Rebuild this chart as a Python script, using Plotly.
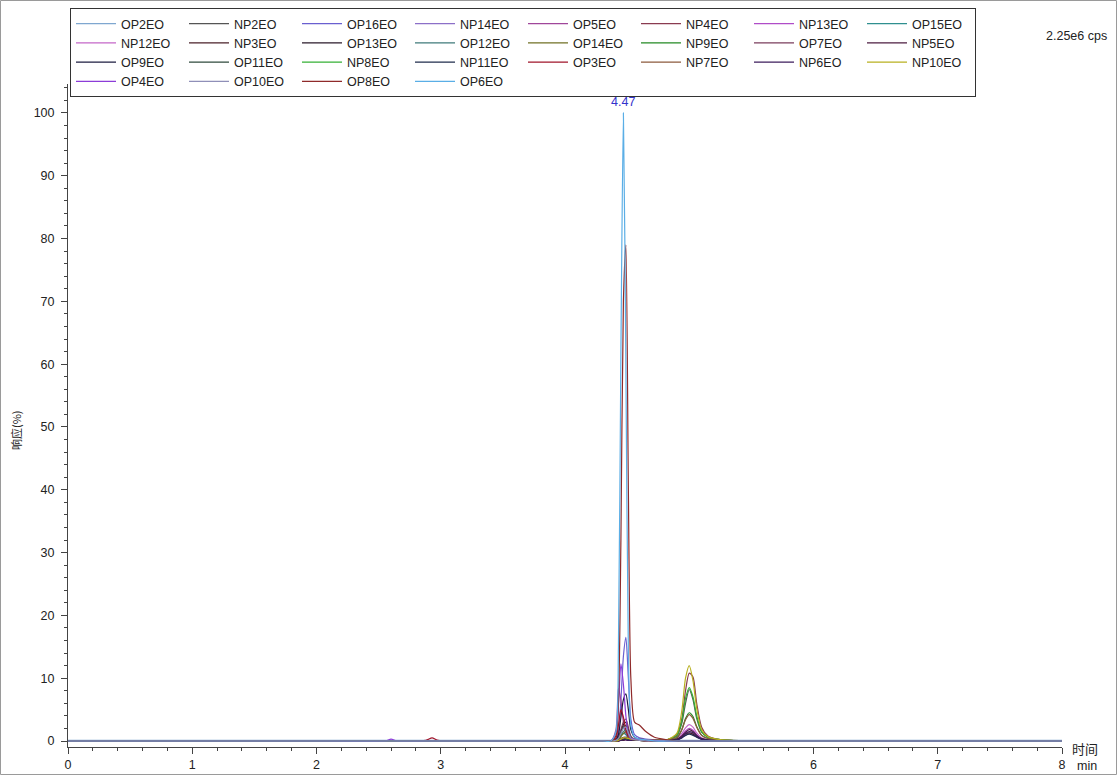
import plotly.graph_objects as go

# Retention time grid (min)
times = [0.0, 1.0, 2.0, 2.55, 2.60, 2.65, 2.88, 2.93, 2.98, 3.5, 4.0, 4.30,
         4.37, 4.41, 4.43, 4.45, 4.47, 4.49, 4.51, 4.53, 4.56, 4.60, 4.65, 4.72, 4.82,
         4.90, 4.94, 4.97, 5.00, 5.03, 5.06, 5.10, 5.15, 5.22, 5.32,
         5.6, 6.5, 8.0]

# Relative response (%) per compound
# (12 early points) + (23 points around the peaks) + (3 late points)
OP2EO  = [0.1]*12 + [0.1,0.2,0.6,1.4,2.0,1.5,0.6,0.2,0.1,0.1,0.1,0.1,0.1,0.1,0.1,0.1,0.1,0.1,0.1,0.1,0.1,0.1,0.1] + [0.1]*3
NP2EO  = [0]*12 + [0,0,0.2,0.4,0.6,0.6,0.4,0.3,0.2,0.2,0.2,0.1,0.2,0.8,2.8,6.0,8.2,6.6,3.6,1.4,0.6,0.3,0.1] + [0]*3
OP16EO = [0]*12 + [0,0.3,1.5,6.5,13.5,16.5,10,3.5,1.0,0.5,0.3,0.2,0.1,0,0,0,0,0,0,0,0,0,0] + [0]*3
NP14EO = [0]*12 + [0,0,0,0.1,0.2,0.2,0.1,0.1,0.1,0.1,0.1,0.1,0.1,0.2,0.5,0.9,1.2,1.0,0.6,0.3,0.1,0.1,0] + [0]*3
OP5EO  = [0]*12 + [0,1.8,8.4,6.5,3.0,1.2,0.5,0.3,0.2,0.1,0.1,0,0,0,0,0,0,0,0,0,0,0,0] + [0]*3
NP4EO  = [0]*12 + [0,0,0.1,0.3,0.5,0.5,0.4,0.3,0.2,0.2,0.2,0.1,0.2,1.0,3.5,8.0,10.8,10.2,6.0,2.2,0.8,0.3,0.1] + [0]*3
NP13EO = [0]*12 + [0,0,0.1,0.2,0.3,0.3,0.2,0.1,0.1,0.1,0.1,0.1,0.1,0.3,0.9,1.6,2.0,1.7,1.0,0.4,0.2,0.1,0] + [0]*3
OP15EO = [0]*12 + [0,0.1,0.3,0.8,1.2,1.0,0.5,0.2,0.1,0.1,0,0,0,0,0,0,0,0,0,0,0,0,0] + [0]*3
NP12EO = [0]*12 + [0,0,0,0.1,0.2,0.2,0.1,0.1,0.1,0.1,0.1,0.1,0.1,0.4,1.2,2.1,2.6,2.2,1.3,0.5,0.2,0.1,0] + [0]*3
NP3EO  = [0]*12 + [0,0,0,0.1,0.2,0.3,0.2,0.1,0.1,0.1,0.1,0.1,0.1,0.2,0.6,1.1,1.3,1.1,0.7,0.3,0.1,0,0] + [0]*3
OP13EO = [0]*12 + [0,0.1,0.5,1.6,2.6,3.0,1.8,0.6,0.2,0.1,0.1,0,0,0,0,0,0,0,0,0,0,0,0] + [0]*3
OP12EO = [0]*12 + [0,0.1,0.3,0.9,1.5,1.8,1.1,0.4,0.1,0.1,0,0,0,0,0,0,0,0,0,0,0,0,0] + [0]*3
OP14EO = [0]*12 + [0,0.1,0.2,0.7,1.2,1.5,0.9,0.3,0.1,0.1,0,0,0,0,0,0,0,0,0,0,0,0,0] + [0]*3
NP9EO  = [0]*12 + [0,0,0.1,0.2,0.3,0.3,0.2,0.2,0.1,0.1,0.1,0.1,0.1,0.5,1.8,3.6,4.5,3.9,2.3,0.9,0.4,0.2,0.1] + [0]*3
OP7EO  = [0]*12 + [0,0.1,0.5,1.8,3.0,3.5,2.2,0.8,0.3,0.2,0.1,0,0,0,0,0,0,0,0,0,0,0,0] + [0]*3
NP5EO  = [0]*12 + [0,0,0,0.1,0.1,0.2,0.1,0.1,0.1,0.1,0.1,0.1,0.1,0.3,0.8,1.4,1.8,1.5,0.9,0.4,0.2,0.1,0] + [0]*3
OP9EO  = [0]*12 + [0,0.2,1.0,3.8,6.6,7.5,5.0,1.8,0.6,0.3,0.2,0.1,0,0,0,0,0,0,0,0,0,0,0] + [0]*3
OP11EO = [0]*12 + [0,0.1,0.4,1.3,2.2,2.5,1.5,0.5,0.2,0.1,0,0,0,0,0,0,0,0,0,0,0,0,0] + [0]*3
NP8EO  = [0]*12 + [0,0,0.1,0.2,0.3,0.3,0.2,0.2,0.1,0.1,0.1,0.1,0.2,0.9,3.2,6.8,8.5,7.0,4.0,1.5,0.6,0.3,0.1] + [0]*3
NP11EO = [0]*12 + [0,0,0.1,0.2,0.3,0.4,0.3,0.2,0.1,0.1,0.1,0.1,0.1,0.2,0.5,0.9,1.1,0.9,0.6,0.3,0.1,0,0] + [0]*3
OP3EO  = [0,0,0,0,0,0,0.1,0.5,0.1,0,0,0] + [0,0.5,2.5,5.0,3.8,1.8,0.6,0.2,0.1,0.1,0,0,0,0,0,0,0,0,0,0,0,0,0] + [0]*3
NP7EO  = [0]*12 + [0,0,0.1,0.3,0.5,0.6,0.5,0.4,0.3,0.3,0.2,0.2,0.2,0.6,1.8,3.4,4.2,3.6,2.2,0.9,0.4,0.2,0.1] + [0]*3
NP6EO  = [0]*12 + [0,0,0,0.1,0.2,0.2,0.1,0.1,0.1,0.1,0.1,0.1,0.1,0.2,0.6,1.2,1.5,1.3,0.8,0.3,0.1,0.1,0] + [0]*3
NP10EO = [0]*12 + [0,0,0.1,0.3,0.5,0.5,0.4,0.3,0.2,0.2,0.2,0.1,0.2,1.2,4.8,10.0,12.0,9.6,5.2,1.8,0.7,0.3,0.1] + [0]*3
OP4EO  = [0,0,0,0,0.3,0,0,0,0,0,0,0] + [0,1.2,5.5,12.3,9.0,4.0,1.2,0.4,0.3,0.3,0.2,0.1,0,0,0,0,0,0,0,0,0,0,0] + [0]*3
OP10EO = [0]*12 + [0,0.1,0.4,1.2,2.0,2.2,1.3,0.5,0.2,0.1,0,0,0,0,0,0,0,0,0,0,0,0,0] + [0]*3
OP8EO  = [0]*12 + [0,0.8,6,32,70,79,40,10,3,2.5,1.5,0.6,0.2,0,0,0,0,0,0,0,0,0,0] + [0]*3
OP6EO  = [0]*12 + [0,1.5,15,62,100,60,14,2.5,0.6,0.3,0.2,0,0,0,0,0,0,0,0,0,0,0,0] + [0]*3

series_names = ["OP2EO", "NP2EO", "OP16EO", "NP14EO", "OP5EO", "NP4EO", "NP13EO", "OP15EO",
                "NP12EO", "NP3EO", "OP13EO", "OP12EO", "OP14EO", "NP9EO", "OP7EO", "NP5EO",
                "OP9EO", "OP11EO", "NP8EO", "NP11EO", "OP3EO", "NP7EO", "NP6EO", "NP10EO",
                "OP4EO", "OP10EO", "OP8EO", "OP6EO"]
series_values = [OP2EO, NP2EO, OP16EO, NP14EO, OP5EO, NP4EO, NP13EO, OP15EO,
                 NP12EO, NP3EO, OP13EO, OP12EO, OP14EO, NP9EO, OP7EO, NP5EO,
                 OP9EO, OP11EO, NP8EO, NP11EO, OP3EO, NP7EO, NP6EO, NP10EO,
                 OP4EO, OP10EO, OP8EO, OP6EO]
series_colors = ["#7fa7d0", "#555555", "#6a5fd0", "#8c6fc8", "#a0469a", "#8a3b50", "#b04cc8", "#2f8f8f",
                 "#c467c8", "#4a2028", "#2a1a2a", "#3f7a7a", "#707025", "#238a23", "#7a3c5c", "#4d1c40",
                 "#1c1c40", "#2f4a3c", "#34b034", "#1f2d4d", "#a0142a", "#8c5a3c", "#3c1c5c", "#b8b020",
                 "#8c3cd8", "#8f8fb8", "#8f2a2a", "#5aaee6"]

peak_time = 4.47
peak_label = "4.47"

fig = go.Figure()
for name, vals, col in zip(series_names, series_values, series_colors):
    fig.add_trace(go.Scatter(x=times, y=vals, name=name, mode="lines",
                             line=dict(color=col, width=1.2, shape="spline", smoothing=0.7)))

W, H = 1117, 775
L, R, T, B = 68, 55, 84, 28
pw, ph = W - L - R, H - T - B

font_main = "Liberation Sans, Arial, sans-serif"
font_cjk = "Noto Sans CJK SC, sans-serif"

fig.update_layout(
    width=W, height=H,
    margin=dict(l=L, r=R, t=T, b=B, autoexpand=False),
    paper_bgcolor="white", plot_bgcolor="white",
    font=dict(family=font_main, size=12, color="#222222"),
    showlegend=True,
    legend=dict(orientation="h", x=2 / pw, y=1 + (T - 8) / ph, xanchor="left", yanchor="top",
                entrywidth=58, entrywidthmode="pixels", itemwidth=40,
                bordercolor="#333333", borderwidth=1, bgcolor="white",
                font=dict(family=font_main, size=12.5, color="#222222"),
                tracegroupgap=0, traceorder="normal"),
    xaxis=dict(range=[0, 8], showgrid=False, zeroline=False, showline=True, linecolor="#444444",
               linewidth=1, ticks="outside", ticklen=6, tickcolor="#444444", dtick=1, tick0=0,
               automargin=False,
               tickfont=dict(size=12.5, color="#222222"),
               minor=dict(dtick=0.2, ticks="outside", ticklen=3, tickcolor="#444444")),
    yaxis=dict(range=[-0.955, 104.6], showgrid=False, zeroline=False, showline=True, linecolor="#444444",
               linewidth=1, ticks="outside", ticklen=6, tickcolor="#444444", dtick=10, tick0=0,
               ticklabelstandoff=4, automargin=False,
               tickfont=dict(size=12.5, color="#222222"),
               minor=dict(dtick=2, ticks="outside", ticklen=3, tickcolor="#444444")),
)

fig.add_annotation(x=peak_time, y=100, text=peak_label, showarrow=False, yanchor="bottom", yshift=2,
                   font=dict(family=font_main, size=12.5, color="#3333cc"))
fig.add_annotation(xref="paper", yref="paper", x=(W - 8 - L) / pw, y=1 + (T - 36) / ph,
                   text="2.25e6 cps", showarrow=False, xanchor="right", yanchor="middle",
                   font=dict(family=font_main, size=12.5, color="#222222"))
fig.add_annotation(xref="paper", yref="paper", x=(1070 - L) / pw, y=(H - B - 748) / ph,
                   text="时间", showarrow=False, xanchor="left", yanchor="middle",
                   font=dict(family=font_cjk, size=13, color="#222222"))
fig.add_annotation(xref="paper", yref="paper", x=(1075 - L) / pw, y=(H - B - 766) / ph,
                   text="min", showarrow=False, xanchor="left", yanchor="middle",
                   font=dict(family=font_main, size=12.5, color="#222222"))
fig.add_annotation(xref="paper", yref="paper", x=(16 - L) / pw, y=(H - B - 430) / ph,
                   text="响应(%)", showarrow=False, textangle=-90, xanchor="center", yanchor="middle",
                   font=dict(family=font_cjk, size=11, color="#222222"))

# outer frame of the picture
fig.add_shape(type="rect", xref="paper", yref="paper",
              x0=(0.5 - L) / pw, x1=(W - 0.5 - L) / pw,
              y0=(H - B - (H - 0.5)) / ph, y1=(H - B - 0.5) / ph,
              line=dict(color="#9a9a9a", width=1), fillcolor="rgba(0,0,0,0)", layer="below")

fig.write_html("out.html")
